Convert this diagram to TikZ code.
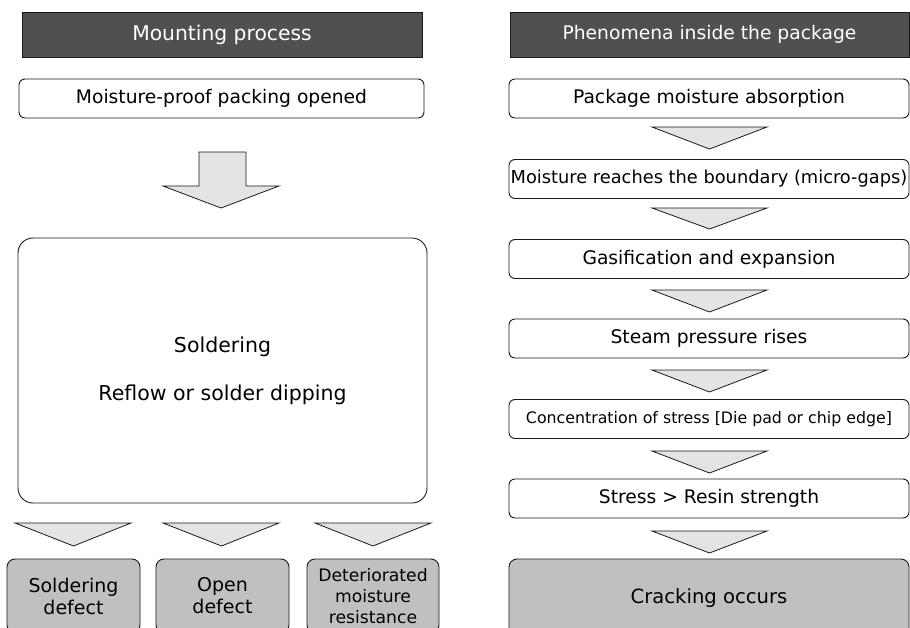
\documentclass[tikz,border=0pt]{standalone}
\usepackage{fontspec}
\setmainfont{DejaVu Sans}
\definecolor{hdr}{HTML}{505050}
\definecolor{arr}{HTML}{E4E4E4}
\definecolor{gbox}{HTML}{C0C0C0}
\definecolor{edge}{HTML}{1A1A1A}
\begin{document}
\begin{tikzpicture}[x=1pt,y=-1pt,
  header/.style={draw=edge, line width=0.9pt, fill=hdr, text=white, minimum width=400pt, minimum height=45pt, inner sep=0pt, font=\fontsize{18.7pt}{22pt}\selectfont},
  stepbox/.style={draw=edge, line width=0.9pt, rounded corners=6pt, fill=white, minimum width=400pt, minimum height=39pt, inner sep=0pt, align=center, font=\fontsize{18.7pt}{22pt}\selectfont},
  graybox/.style={draw=edge, line width=0.9pt, rounded corners=8pt, fill=gbox, inner sep=0pt, align=center, font=\fontsize{19pt}{22pt}\selectfont},
  tri/.style={draw=edge, line width=0.8pt, fill=arr, line join=miter}
]
\clip (0,0) rectangle (910,628);
\fill[white] (0,0) rectangle (910,628);

% headers
\node[header] (h1) at (222,34.5) {\fontsize{20.3pt}{24pt}\selectfont Mounting process};
\node[header, minimum width=399pt] (h2) at (709.5,34.5) {Phenomena inside the package};

% left column
\node[stepbox, minimum width=405pt] (m0) at (221.5,98.5) {Moisture-proof packing opened};
\node[stepbox, rounded corners=15pt, minimum width=409pt, minimum height=265pt,
      font=\fontsize{20.5pt}{24pt}\selectfont] (sold) at (222.5,370.5)
      {Soldering\\[24pt]Reflow or solder dipping};
\draw[tri] (199,152) -- (246,152) -- (246,186) -- (279,186) -- (221,208) -- (163,186) -- (199,186) -- cycle;

\node[graybox, minimum width=133pt, minimum height=74pt] (d1) at (73.5,596) {Soldering\\defect};
\node[graybox, minimum width=133pt, minimum height=74pt] (d2) at (222.5,596) {Open\\defect};
\node[graybox, minimum width=132pt, minimum height=74pt, font=\fontsize{17.2pt}{21pt}\selectfont] (d3) at (373,596) {Deteriorated\\moisture\\resistance};

\draw[tri] (15,523) -- (131,523) -- (73.5,546) -- cycle;
\draw[tri] (163,523) -- (279,523) -- (221.5,546) -- cycle;
\draw[tri] (315,523) -- (431,523) -- (373,546) -- cycle;

% right column
\node[stepbox] (r1) at (709,98.5) {Package moisture absorption};
\node[stepbox, font=\fontsize{17.8pt}{22pt}\selectfont] (r2) at (709,179) {Moisture reaches the boundary (micro-gaps)};
\node[stepbox] (r3) at (709,259) {Gasification and expansion};
\node[stepbox] (r4) at (709,338.5) {Steam pressure rises};
\node[stepbox, font=\fontsize{15.8pt}{20pt}\selectfont] (r5) at (709,419) {Concentration of stress [Die pad or chip edge]};
\node[stepbox] (r6) at (709,498.5) {Stress > Resin strength};
\node[graybox, rounded corners=8pt, minimum width=400pt, minimum height=78pt, font=\fontsize{19.6pt}{24pt}\selectfont] (r7) at (709,598) {Cracking occurs};

\foreach \t/\b in {127/149, 208/229, 290/312, 370/392, 451/473, 531/553}{
  \draw[tri] (652,\t) -- (767,\t) -- (709.5,\b) -- cycle;
}
\end{tikzpicture}
\end{document}
